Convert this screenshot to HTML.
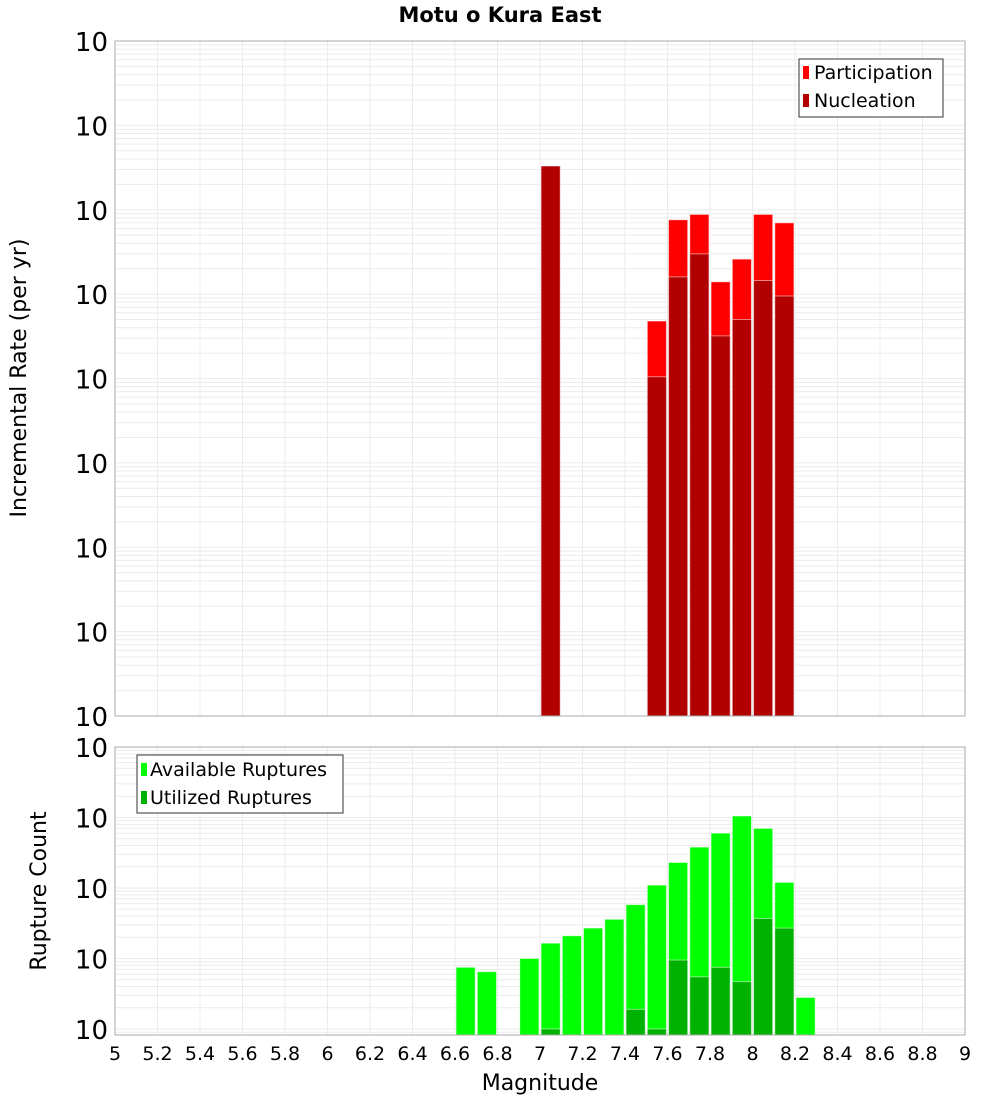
<!DOCTYPE html>
<html><head><meta charset="utf-8"><style>
body{margin:0;background:#fff;font-family:"Liberation Sans","DejaVu Sans",sans-serif}
svg text{font-family:"DejaVu Sans","Liberation Sans",sans-serif}
</style></head><body>
<svg id="c" width="1000" height="1100" xmlns="http://www.w3.org/2000/svg">
<rect width="1000" height="1100" fill="#fff"/>
<text x="500" y="22" text-anchor="middle" font-size="21" font-weight="bold">Motu o Kura East</text>
<g id="top"></g><g id="bot"></g>
<text transform="translate(26,378) rotate(-90)" text-anchor="middle" font-size="22">Incremental Rate (per yr)</text>
<text transform="translate(46,891) rotate(-90)" text-anchor="middle" font-size="22">Rupture Count</text>
<text x="540" y="1090" text-anchor="middle" font-size="22">Magnitude</text>
</svg>
<script>
const rateMags=[7.0,7.5,7.6,7.7,7.8,7.9,8.0,8.1];
const participation=[3.3e-4,4.8e-6,7.6e-5,8.8e-5,1.4e-5,2.6e-5,8.8e-5,7.0e-5];
const nucleation=[3.3e-4,1.05e-6,1.6e-5,3.0e-5,3.2e-6,5.0e-6,1.45e-5,9.5e-6];
const countMags=[6.6,6.7,6.9,7.0,7.1,7.2,7.3,7.4,7.5,7.6,7.7,7.8,7.9,8.0,8.1,8.2];
const available=[7.5,6.5,10,16.5,21,27,36,58,110,230,380,600,1050,700,120,2.8];
const utilMags=[7.0,7.4,7.5,7.6,7.7,7.8,7.9,8.0,8.1];
const utilized=[1.0,1.9,1.0,9.5,5.5,7.5,4.7,37,27];
const xTicks=[5,5.2,5.4,5.6,5.8,6,6.2,6.4,6.6,6.8,7,7.2,7.4,7.6,7.8,8,8.2,8.4,8.6,8.8,9];
const topExps=[-2,-3,-4,-5,-6,-7,-8,-9,-10];
const botExps=[4,3,2,1,0];
const NS="http://www.w3.org/2000/svg";
const X0=115,X1=965;
const xs=m=>X0+(m-5)/4*(X1-X0);
function el(p,t,a){const e=document.createElementNS(NS,t);for(const k in a)e.setAttribute(k,a[k]);p.appendChild(e);return e;}
function panel(g,top,bot,lmax,lmin,yfn,exps,name){
  const sg=el(g,'rect',{x:X0,y:top,width:X1-X0,height:bot-top,fill:'#fff',stroke:'none'});
  
  
  for(let e=Math.floor(lmin);e<lmax;e++){for(let k=1;k<10;k++){const y=yfn(Math.pow(10,e)*k);if(y<top||y>bot)continue;
    el(g,'line',{x1:X0,x2:X1,y1:y,y2:y,stroke:'#ebebeb','stroke-width':1});}}
  xTicks.forEach(t=>{const x=xs(t);el(g,'line',{x1:x,x2:x,y1:top,y2:bot,stroke:'#ebebeb','stroke-width':1});});
  exps.forEach(e=>{const y=yfn(Math.pow(10,e));
    const t=el(g,'text',{x:108,y:y+10,'text-anchor':'end','font-size':26});
    
    
    t.textContent='10';
    const s=el(g,'tspan',{dy:-14,'font-size':17});s.textContent=String(e);
    t.setAttribute('transform','translate(0,0)');
  });
}
function bars(g,mags,vals,yfn,bot,color,name){
  mags.forEach((m,i)=>{const y=yfn(vals[i]);
    const r=el(g,'rect',{x:xs(m+0.005),y:y,width:xs(m+0.095)-xs(m+0.005),height:bot-y,fill:color,stroke:'#fff','stroke-opacity':0.5,'stroke-width':1});
    
    });
}
// top panel
const T=document.getElementById('top');
const tTop=41,tBot=716;
const yT=v=>tTop+(-2-Math.log10(v))/8*(tBot-tTop);
panel(T,tTop,tBot,-2,-10,yT,topExps,'top');
bars(T,rateMags,participation,yT,tBot,'#ff0000','participation');
bars(T,rateMags,nucleation,yT,tBot,'#b20000','nucleation');
el(T,'rect',{x:X0,y:tTop,width:X1-X0,height:tBot-tTop,fill:'none',stroke:'#aaa'});
// legend top
const lg=el(T,'g',{});


el(lg,'rect',{x:799,y:59,width:144,height:58,fill:'#fff',stroke:'#333'});
el(lg,'rect',{x:803,y:66,width:6,height:13,fill:'#ff0000'});
el(lg,'rect',{x:803,y:94,width:6,height:13,fill:'#b20000'});
let t1=el(lg,'text',{x:814,y:79,'font-size':19});t1.textContent='Participation';
let t2=el(lg,'text',{x:814,y:107,'font-size':19});t2.textContent='Nucleation';
// bottom panel
const B=document.getElementById('bot');
const bTop=747,bBot=1035,b0=1029;
const yB=v=>b0-Math.log10(v)*(b0-bTop)/4;
panel(B,bTop,bBot,4,-1,yB,botExps,'bottom');
bars(B,countMags,available,yB,bBot,'#00ff00','available');
bars(B,utilMags,utilized,yB,bBot,'#00b200','utilized');
el(B,'rect',{x:X0,y:bTop,width:X1-X0,height:bBot-bTop,fill:'none',stroke:'#aaa'});
const lb=el(B,'g',{});


el(lb,'rect',{x:137,y:755,width:206,height:58,fill:'#fff',stroke:'#333'});
el(lb,'rect',{x:141,y:763,width:6,height:13,fill:'#00ff00'});
el(lb,'rect',{x:141,y:791,width:6,height:13,fill:'#00b200'});
let t3=el(lb,'text',{x:150,y:776,'font-size':19});t3.textContent='Available Ruptures';
let t4=el(lb,'text',{x:150,y:804,'font-size':19});t4.textContent='Utilized Ruptures';
xTicks.forEach(t=>{const tx=el(B,'text',{x:xs(t),y:1060,'text-anchor':'middle','font-size':19});
  
  
  tx.textContent=String(Math.round(t*10)/10);});
</script>
</body></html>
